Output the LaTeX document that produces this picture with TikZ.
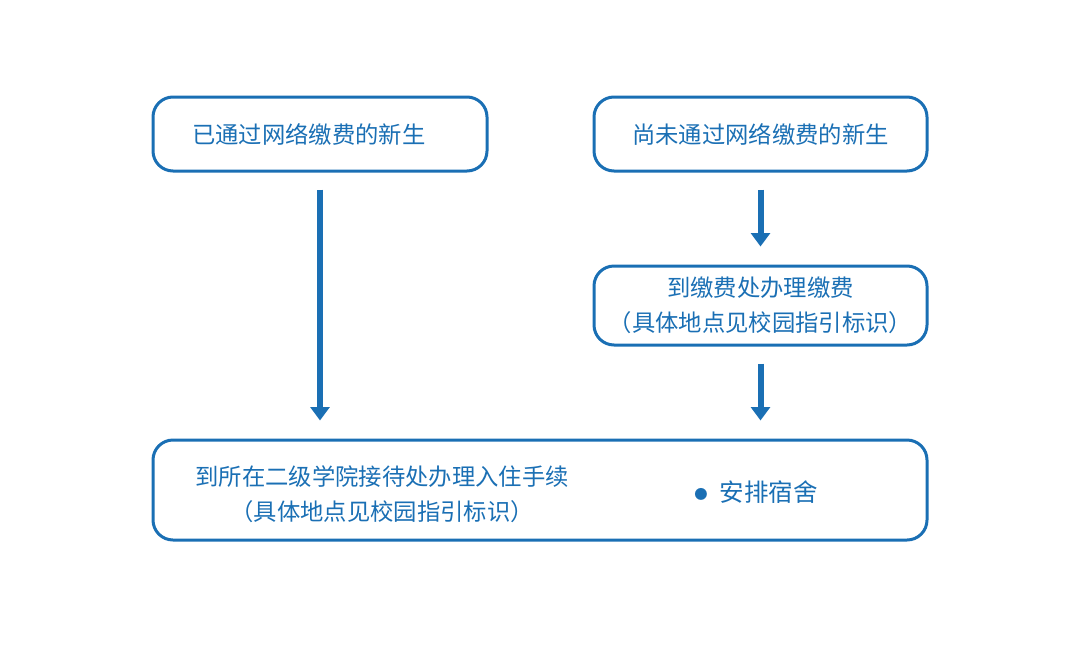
\documentclass[tikz,border=0pt]{standalone}
\usepackage{fontspec}
\setmainfont{Noto Sans CJK SC}
\usetikzlibrary{arrows.meta}
\definecolor{flowblue}{HTML}{1A6FB4}
\begin{document}
\begin{tikzpicture}[x=0.75pt,y=-0.75pt,
        box/.style={draw=flowblue,line width=2.25pt,rounded corners=15pt,inner sep=0pt,
            text=flowblue,font=\fontsize{17.5pt}{26.25pt}\selectfont,align=center},
        txt/.style={text=flowblue,font=\fontsize{17.5pt}{26.25pt}\selectfont,align=center,inner sep=0pt},
        flow/.style={draw=flowblue,line width=4.5pt,-{Triangle[width=14pt,length=10pt]}}]
        \useasboundingbox (0,0) rectangle (1080,646);
        \node[box,minimum width=250.5pt,minimum height=55.5pt] (paid) at (320,134) {};
        \node[txt,anchor=west] (paidtxt) at (192,134) {已通过网络缴费的新生};
        \node[box,minimum width=249.75pt,minimum height=55.5pt] (unpaid) at (760.5,134) {尚未通过网络缴费的新生};
        \node[box,minimum width=249.75pt,minimum height=59.25pt] (desk) at (760.5,305.5) {到缴费处办理缴费\\（具体地点见校园指引标识）};
        \node[box,minimum width=580.5pt,minimum height=75pt] (hall) at (540,490) {};
        \node[txt] (halltxt) at (382,494) {到所在二级学院接待处办理入住手续\\（具体地点见校园指引标识）};
        \node[txt,anchor=west] (dorm) at (694,492) {\raisebox{1.5pt}{\fontsize{10pt}{10pt}\selectfont ●}\hspace{9pt}\fontsize{18.4pt}{26pt}\selectfont 安排宿舍};
        \draw[flow] ([yshift=-12.75pt]paid.south) -- ([yshift=13.5pt]paid.south |- hall.north);
        \draw[flow] ([yshift=-12.75pt]unpaid.south) -- ([yshift=13.5pt]desk.north);
        \draw[flow] ([yshift=-12.75pt]desk.south) -- ([yshift=13.5pt]desk.south |- hall.north);
    \end{tikzpicture}
\end{document}
